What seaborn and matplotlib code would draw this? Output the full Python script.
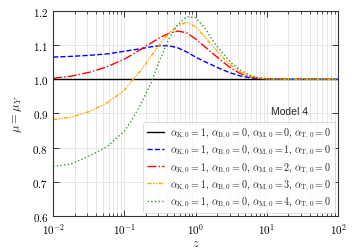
import numpy as np
import pandas as pd
import matplotlib
matplotlib.use("Agg")
import matplotlib.pyplot as plt
import matplotlib.ticker as mticker
import seaborn as sns

# log10(z) grid
log_z = [-2.0, -1.75, -1.5, -1.25, -1.0, -0.875, -0.75, -0.625, -0.5, -0.375,
         -0.25, -0.125, 0.0, 0.125, 0.25, 0.375, 0.5, 0.625, 0.75, 0.875,
         1.0, 1.25, 1.5, 2.0]

mu_m0 = [1.0] * len(log_z)
mu_m1 = [1.065, 1.067, 1.070, 1.074, 1.082, 1.086, 1.090, 1.095, 1.098, 1.098,
         1.092, 1.080, 1.065, 1.052, 1.040, 1.028, 1.018, 1.010, 1.005, 1.002,
         1.001, 1.0, 1.0, 1.0]
mu_m2 = [1.003, 1.009, 1.020, 1.036, 1.059, 1.074, 1.090, 1.106, 1.122, 1.134,
         1.141, 1.136, 1.118, 1.096, 1.074, 1.052, 1.032, 1.017, 1.008, 1.003,
         1.001, 1.0, 1.0, 1.0]
mu_m3 = [0.882, 0.889, 0.905, 0.930, 0.968, 1.000, 1.030, 1.068, 1.103, 1.135,
         1.157, 1.167, 1.153, 1.125, 1.095, 1.066, 1.040, 1.021, 1.010, 1.004,
         1.001, 1.0, 1.0, 1.0]
mu_m4 = [0.745, 0.752, 0.775, 0.802, 0.848, 0.888, 0.935, 0.990, 1.058, 1.118,
         1.160, 1.183, 1.180, 1.152, 1.110, 1.078, 1.048, 1.027, 1.013, 1.005,
         1.002, 1.0, 1.0, 1.0]

labels = [
    r"$\alpha_{\mathrm{K},0}=1,\,\alpha_{\mathrm{B},0}=0,\,\alpha_{\mathrm{M},0}=0,\,\alpha_{\mathrm{T},0}=0$",
    r"$\alpha_{\mathrm{K},0}=1,\,\alpha_{\mathrm{B},0}=0,\,\alpha_{\mathrm{M},0}=1,\,\alpha_{\mathrm{T},0}=0$",
    r"$\alpha_{\mathrm{K},0}=1,\,\alpha_{\mathrm{B},0}=0,\,\alpha_{\mathrm{M},0}=2,\,\alpha_{\mathrm{T},0}=0$",
    r"$\alpha_{\mathrm{K},0}=1,\,\alpha_{\mathrm{B},0}=0,\,\alpha_{\mathrm{M},0}=3,\,\alpha_{\mathrm{T},0}=0$",
    r"$\alpha_{\mathrm{K},0}=1,\,\alpha_{\mathrm{B},0}=0,\,\alpha_{\mathrm{M},0}=4,\,\alpha_{\mathrm{T},0}=0$",
]
colors = ["black", "blue", "red", "orange", "tab:green"]
styles = ["-", "--", "-.", (0, (3, 1, 1, 1, 1, 1)), ":"]

sns.set_style("ticks")
plt.rcParams["font.family"] = "serif"
plt.rcParams["font.serif"] = ["cmr10", "DejaVu Serif"]
plt.rcParams["mathtext.fontset"] = "cm"
plt.rcParams["axes.formatter.use_mathtext"] = True

z = 10 ** np.array(log_z)
df = pd.DataFrame({"z": z})

fig = plt.figure(figsize=(3.54, 2.53), dpi=100)
ax = fig.add_axes([0.150, 0.142, 0.805, 0.811])

for i, mu in enumerate([mu_m0, mu_m1, mu_m2, mu_m3, mu_m4]):
    df["mu"] = mu
    sns.lineplot(data=df, x="z", y="mu", ax=ax, color=colors[i],
                 linestyle=styles[i], linewidth=1.0, label=labels[i])

ax.set_xscale("log")
ax.set_xlim(1e-2, 1e2)
ax.set_ylim(0.6, 1.2)
ax.yaxis.set_major_locator(mticker.MultipleLocator(0.1))
ax.yaxis.set_major_formatter(mticker.FuncFormatter(lambda v, p: f"${v:.1f}$"))
ax.xaxis.set_minor_locator(mticker.LogLocator(base=10, subs=np.arange(2, 10)))
ax.xaxis.set_minor_formatter(mticker.NullFormatter())

ax.grid(True, which="both", axis="x", color="#e6e6e6", linewidth=0.7)
ax.grid(True, which="major", axis="y", color="#e6e6e6", linewidth=0.7)
ax.set_axisbelow(True)

ax.tick_params(which="both", direction="in", top=True, right=True,
               labelsize=8, colors="#333333", labelcolor="black")
ax.tick_params(which="major", length=4, width=0.7)
ax.tick_params(which="minor", length=2, width=0.6)
for s in ax.spines.values():
    s.set_color("#333333")
    s.set_linewidth(0.8)

ax.set_xlabel(r"$z$", fontsize=9, labelpad=1)
ax.set_ylabel(r"$\mu=\mu_Y$", fontsize=9, labelpad=6)

ax.text(0.83, 0.51, "Model 4", transform=ax.transAxes, ha="center", va="center",
        fontsize=7.5, family=["Liberation Sans", "DejaVu Sans"])

leg = ax.legend(loc="lower right", fontsize=7.2, frameon=True, handlelength=1.7,
                labelspacing=0.3, borderpad=0.4, handletextpad=0.6,
                borderaxespad=0.3, fancybox=True)
leg.get_frame().set_edgecolor("#cccccc")
leg.get_frame().set_linewidth(0.6)

fig.savefig("out.png", dpi=100)
